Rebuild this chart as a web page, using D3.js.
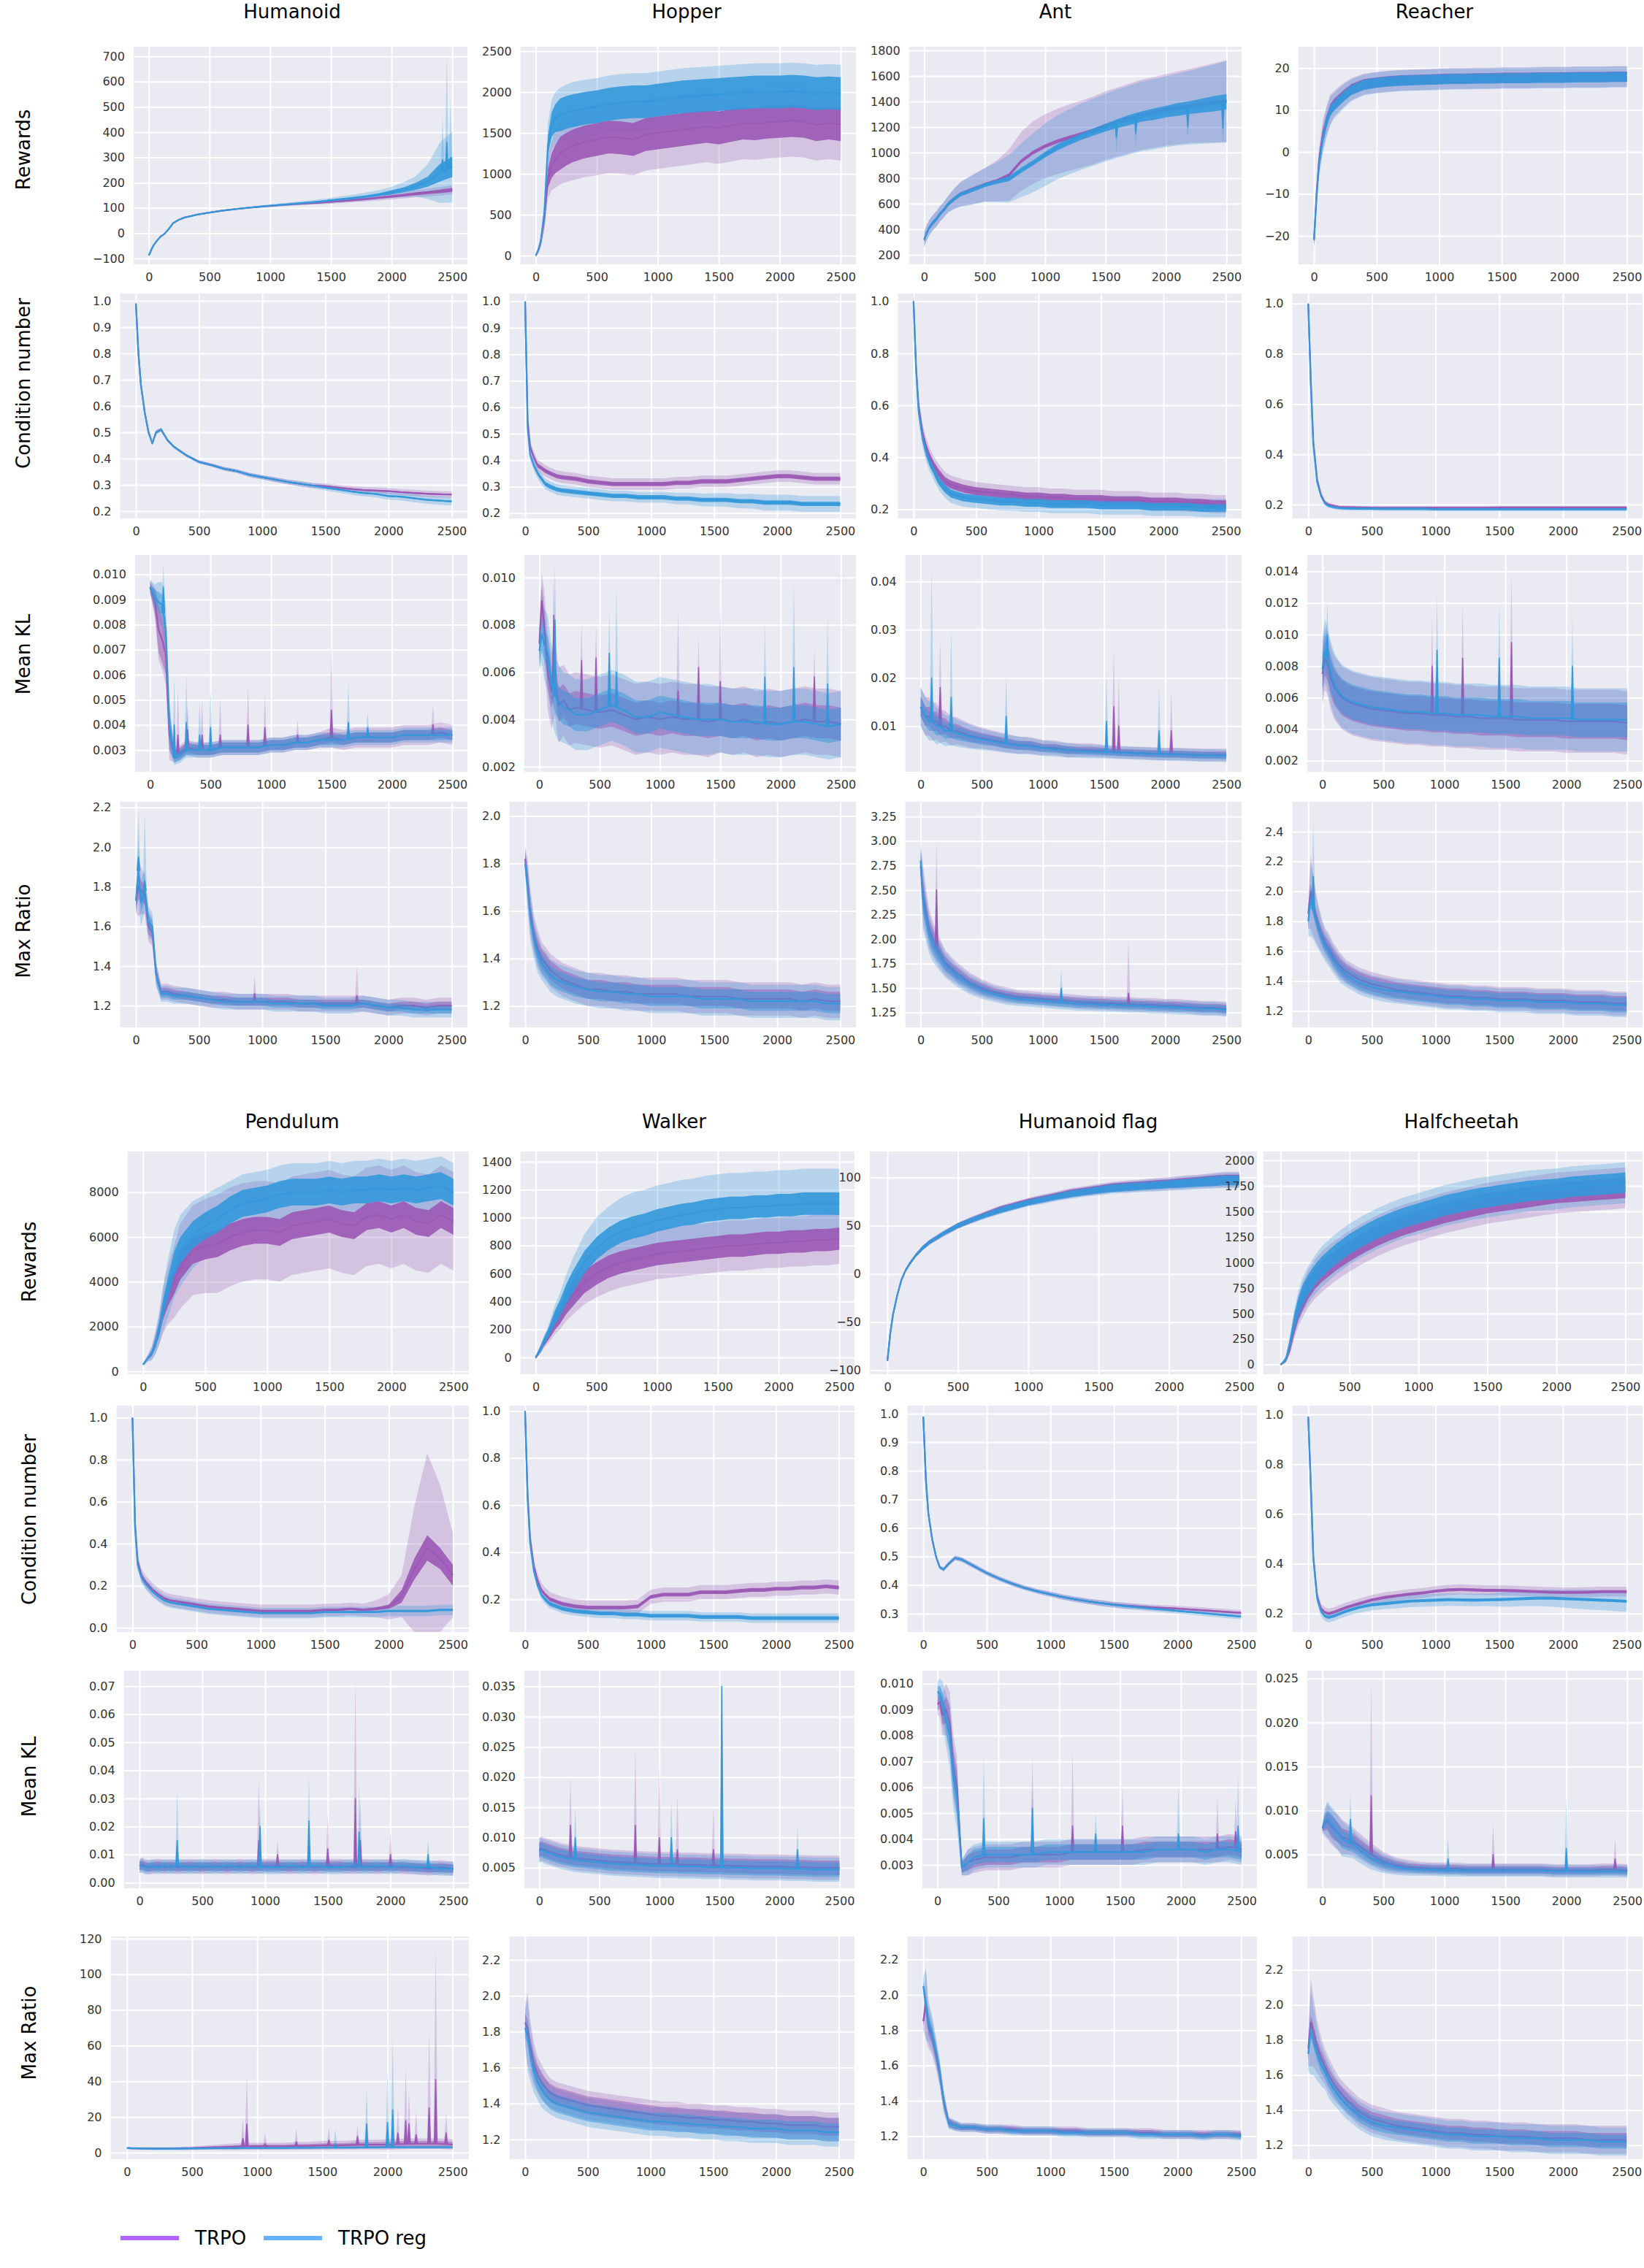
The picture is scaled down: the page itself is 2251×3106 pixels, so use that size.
<!DOCTYPE html>
<html>
<head>
<meta charset="utf-8">
<script src="https://cdn.jsdelivr.net/npm/d3@7"></script>
<style>
  body { margin: 0; background: #fff; }
  svg text { font-family: "DejaVu Sans", sans-serif; }
</style>
</head>
<body>
<svg id="fig" width="2251" height="3106"></svg>
<script>
const steps = [0, 20, 40, 70, 100, 130, 160, 200, 250, 300,
  400, 500, 600, 700, 800, 900, 1000, 1100, 1200, 1300, 1400,
  1500, 1600, 1700, 1800, 1900, 2000, 2100, 2200, 2300, 2400, 2500];
const xTicks = [0, 500, 1000, 1500, 2000, 2500];
const envTop = ["Humanoid", "Hopper", "Ant", "Reacher"];
const envBottom = ["Pendulum", "Walker", "Humanoid flag", "Halfcheetah"];
const metrics = ["Rewards", "Condition number", "Mean KL", "Max Ratio"];
const seriesNames = ["TRPO", "TRPO reg"];

/* ---------- Humanoid ---------- */
const humRewTicks = ["−100", "0", "100", "200", "300", "400", "500", "600", "700"];
const humRewTrpo = [-88, -66, -47, -28, -12, -2, 14, 40, 54, 63,
  74, 82, 89, 95, 100, 104, 108, 112, 115, 118, 121,
  124, 128, 132, 136, 141, 146, 151, 156, 161, 166, 172];
const humRewReg = [-88, -66, -47, -28, -12, -2, 14, 40, 54, 63,
  74, 82, 89, 95, 100, 105, 109, 113, 117, 121, 125,
  130, 135, 140, 146, 153, 162, 172, 186, 205, 240, 262];
const humRewTrpoNoise = [1, 1, 1, 1, 1, 1, 1, 1, 1, 1, 1, 1, 1, 1, 1, 2, 2, 2, 2, 2, 3, 3, 3, 4, 4, 4, 5, 5, 6, 6, 7, 8];
const humRewTrpoSd = [2, 2, 2, 2, 2, 2, 2, 2, 2, 2, 2, 2, 3, 3, 3, 3, 4, 4, 5, 5, 6, 7, 8, 9, 10, 11, 12, 13, 14, 15, 17, 18];
const humRewRegNoise = [1, 1, 1, 1, 1, 1, 1, 1, 1, 1, 1, 1, 1, 1, 1, 2, 2, 2, 3, 3, 3, 4, 4, 5, 5, 6, 8, 10, 14, 20, 35, 40];
const humRewRegSd = [2, 2, 2, 2, 2, 2, 2, 2, 2, 2, 2, 2, 3, 3, 3, 4, 5, 6, 7, 8, 9, 10, 12, 14, 16, 18, 22, 30, 40, 70, 120, 140];
const humRewRegSpikes = [[2420, 290, 460], [2455, 360, 700], [2485, 300, 530]];

const humCondTicks = ["0.2", "0.3", "0.4", "0.5", "0.6", "0.7", "0.8", "0.9", "1.0"];
const humCondTrpo = [0.99, 0.80, 0.68, 0.575, 0.50, 0.458, 0.50, 0.51, 0.47, 0.445,
  0.412, 0.387, 0.375, 0.361, 0.352, 0.338, 0.329, 0.32, 0.311, 0.304, 0.297,
  0.295, 0.289, 0.284, 0.28, 0.278, 0.276, 0.272, 0.269, 0.266, 0.264, 0.263];
const humCondReg = [0.99, 0.80, 0.68, 0.575, 0.50, 0.458, 0.50, 0.51, 0.47, 0.445,
  0.412, 0.387, 0.375, 0.361, 0.352, 0.338, 0.329, 0.32, 0.311, 0.304, 0.297,
  0.289, 0.283, 0.275, 0.269, 0.265, 0.257, 0.255, 0.249, 0.243, 0.24, 0.237];
const humCondTrpoSd = [0.003, 0.003, 0.003, 0.004, 0.005, 0.006, 0.008, 0.008, 0.006, 0.005,
  0.005, 0.006, 0.006, 0.007, 0.007, 0.008, 0.008, 0.009, 0.009, 0.01, 0.01,
  0.01, 0.011, 0.011, 0.012, 0.012, 0.012, 0.012, 0.012, 0.012, 0.012, 0.012];
const humCondRegSd = [0.003, 0.003, 0.003, 0.004, 0.005, 0.006, 0.008, 0.008, 0.006, 0.005,
  0.005, 0.006, 0.006, 0.007, 0.007, 0.008, 0.008, 0.009, 0.009, 0.01, 0.01,
  0.011, 0.012, 0.012, 0.013, 0.013, 0.014, 0.014, 0.015, 0.015, 0.016, 0.016];

const humKlTicks = ["0.003", "0.004", "0.005", "0.006", "0.007", "0.008", "0.009", "0.010"];
const humKlTrpo = [0.0095, 0.0092, 0.0089, 0.0078, 0.0074, 0.0068, 0.0036, 0.0028, 0.0029, 0.0031,
  0.0030, 0.0030, 0.0031, 0.0031, 0.0031, 0.0031, 0.0032, 0.0032, 0.0033, 0.0033, 0.0034,
  0.0035, 0.0034, 0.0035, 0.0035, 0.0035, 0.0035, 0.0036, 0.0036, 0.0036, 0.0037, 0.0036];
const humKlReg = [0.0095, 0.0093, 0.0091, 0.0089, 0.0088, 0.0078, 0.0040, 0.0027, 0.0028, 0.0030,
  0.0030, 0.0030, 0.0031, 0.0031, 0.0031, 0.0031, 0.0032, 0.0032, 0.0033, 0.0033, 0.0034,
  0.0034, 0.0034, 0.0035, 0.0035, 0.0035, 0.0035, 0.0036, 0.0036, 0.0036, 0.0036, 0.0036];
const humKlTrpoNoise = [0.0002, 0.0003, 0.0005, 0.0009, 0.0009, 0.0008, 0.0006, 0.0002, 0.0002, 0.0002,
  0.0002, 0.0002, 0.0002, 0.0002, 0.0002, 0.0002, 0.0002, 0.0002, 0.0002, 0.0002, 0.0002,
  0.0002, 0.0002, 0.0002, 0.0002, 0.0002, 0.0002, 0.0002, 0.0002, 0.0002, 0.0002, 0.0002];
const humKlRegNoise = [0.0001, 0.0002, 0.0003, 0.0004, 0.0004, 0.0005, 0.0006, 0.0002, 0.0002, 0.0002,
  0.0002, 0.0002, 0.0002, 0.0002, 0.0002, 0.0002, 0.0002, 0.0002, 0.0002, 0.0002, 0.0002,
  0.0002, 0.0002, 0.0002, 0.0002, 0.0002, 0.0002, 0.0002, 0.0002, 0.0002, 0.0002, 0.0002];
const humKlTrpoSd = [0.0003, 0.0004, 0.0006, 0.0012, 0.0012, 0.0012, 0.0010, 0.0003, 0.0003, 0.0003,
  0.0003, 0.0003, 0.0003, 0.0003, 0.0003, 0.0003, 0.0003, 0.0003, 0.0003, 0.0003, 0.0003,
  0.0004, 0.0004, 0.0004, 0.0004, 0.0004, 0.0004, 0.0004, 0.0004, 0.0004, 0.0004, 0.0004];
const humKlRegSd = [0.0003, 0.0004, 0.0005, 0.0008, 0.0009, 0.0010, 0.0010, 0.0003, 0.0003, 0.0003,
  0.0003, 0.0003, 0.0003, 0.0003, 0.0003, 0.0003, 0.0003, 0.0003, 0.0003, 0.0003, 0.0003,
  0.0003, 0.0003, 0.0003, 0.0003, 0.0003, 0.0003, 0.0003, 0.0003, 0.0003, 0.0003, 0.0003];
const humKlTrpoSpikes = [[230, 0.0036, 0.0054], [310, 0.0038, 0.0048], [430, 0.0036, 0.0050], [580, 0.0036, 0.0051],
  [810, 0.0040, 0.0055], [950, 0.0039, 0.0052], [1220, 0.0036, 0.0042], [1500, 0.0046, 0.0072], [2340, 0.0040, 0.0048]];
const humKlRegSpikes = [[110, 0.0095, 0.0104], [200, 0.0040, 0.0059], [300, 0.0041, 0.0060], [410, 0.0036, 0.0049],
  [500, 0.0039, 0.0054], [1640, 0.0041, 0.0057], [1800, 0.0039, 0.0045]];

const humRatioTicks = ["1.2", "1.4", "1.6", "1.8", "2.0", "2.2"];
const humRatioTrpo = [1.73, 1.80, 1.78, 1.76, 1.60, 1.57, 1.36, 1.27, 1.27, 1.26,
  1.25, 1.24, 1.23, 1.23, 1.22, 1.22, 1.22, 1.22, 1.22, 1.21, 1.21,
  1.21, 1.21, 1.21, 1.21, 1.20, 1.19, 1.20, 1.20, 1.19, 1.20, 1.20];
const humRatioReg = [1.73, 1.88, 1.72, 1.78, 1.62, 1.60, 1.36, 1.26, 1.26, 1.25,
  1.25, 1.24, 1.23, 1.22, 1.22, 1.22, 1.22, 1.21, 1.21, 1.21, 1.21,
  1.20, 1.20, 1.20, 1.21, 1.20, 1.19, 1.19, 1.18, 1.18, 1.18, 1.18];
const humRatioNoise = [0.04, 0.06, 0.05, 0.05, 0.04, 0.03, 0.03, 0.02, 0.02, 0.02,
  0.02, 0.02, 0.02, 0.02, 0.02, 0.02, 0.02, 0.02, 0.02, 0.02, 0.02,
  0.02, 0.02, 0.02, 0.02, 0.02, 0.02, 0.02, 0.02, 0.02, 0.02, 0.02];
const humRatioSd = [0.06, 0.15, 0.12, 0.10, 0.08, 0.07, 0.06, 0.04, 0.04, 0.04,
  0.04, 0.04, 0.04, 0.04, 0.04, 0.04, 0.04, 0.04, 0.04, 0.04, 0.04,
  0.04, 0.04, 0.04, 0.04, 0.04, 0.04, 0.04, 0.04, 0.04, 0.04, 0.04];
const humRatioTrpoSpikes = [[940, 1.26, 1.35], [1750, 1.25, 1.40]];
const humRatioRegSpikes = [[20, 1.95, 2.18], [70, 1.83, 2.17]];

/* ---------- Hopper ---------- */
const hopRewTicks = ["0", "500", "1000", "1500", "2000", "2500"];
const hopRewTrpo = [0, 60, 160, 450, 950, 1100, 1180, 1250, 1300, 1340,
  1390, 1420, 1450, 1440, 1420, 1480, 1500, 1520, 1540, 1560, 1580,
  1560, 1590, 1620, 1610, 1630, 1640, 1650, 1640, 1600, 1620, 1600];
const hopRewReg = [0, 70, 170, 520, 1350, 1600, 1680, 1720, 1750, 1770,
  1800, 1820, 1850, 1870, 1880, 1880, 1900, 1920, 1940, 1950, 1960,
  1970, 1980, 1990, 2000, 2000, 2000, 2010, 2000, 1980, 1990, 1980];
const hopRewNoise = [5, 15, 30, 60, 120, 150, 170, 200, 200, 200,
  200, 200, 200, 200, 200, 200, 200, 200, 200, 200, 200,
  200, 200, 200, 200, 200, 200, 200, 200, 200, 200, 200];
const hopRewTrpoSd = [5, 30, 60, 150, 250, 300, 350, 380, 400, 420,
  430, 440, 440, 440, 440, 440, 440, 440, 440, 440, 440,
  440, 440, 440, 440, 440, 440, 440, 440, 440, 440, 440];
const hopRewRegSd = [5, 30, 60, 150, 280, 300, 320, 330, 340, 350,
  350, 350, 350, 350, 350, 350, 350, 350, 350, 350, 350,
  350, 350, 350, 350, 350, 350, 350, 350, 350, 350, 350];

const hopCondTicks = ["0.2", "0.3", "0.4", "0.5", "0.6", "0.7", "0.8", "0.9", "1.0"];
const hopCondTrpo = [1.0, 0.55, 0.45, 0.41, 0.38, 0.37, 0.36, 0.35, 0.34, 0.335,
  0.33, 0.32, 0.315, 0.31, 0.31, 0.31, 0.31, 0.31, 0.315, 0.315, 0.32,
  0.32, 0.32, 0.325, 0.33, 0.335, 0.34, 0.34, 0.335, 0.33, 0.33, 0.33];
const hopCondReg = [1.0, 0.52, 0.42, 0.38, 0.35, 0.33, 0.31, 0.30, 0.29, 0.285,
  0.28, 0.275, 0.27, 0.265, 0.265, 0.26, 0.26, 0.26, 0.255, 0.255, 0.25,
  0.25, 0.25, 0.245, 0.245, 0.24, 0.24, 0.24, 0.235, 0.235, 0.235, 0.235];
const hopCondRegSd = [0.01, 0.02, 0.02, 0.02, 0.02, 0.02, 0.02, 0.02, 0.02, 0.02,
  0.02, 0.02, 0.02, 0.02, 0.02, 0.02, 0.02, 0.02, 0.022, 0.022, 0.024,
  0.025, 0.026, 0.027, 0.028, 0.03, 0.03, 0.03, 0.03, 0.03, 0.03, 0.03];

const hopKlTicks = ["0.002", "0.004", "0.006", "0.008", "0.010"];
const hopKlTrpo = [0.0072, 0.0090, 0.0080, 0.0060, 0.0052, 0.0058, 0.0046, 0.0048, 0.0044, 0.0045,
  0.0044, 0.0043, 0.0044, 0.0042, 0.0040, 0.0041, 0.0040, 0.0041, 0.0040, 0.0040, 0.0039,
  0.0040, 0.0039, 0.0040, 0.0038, 0.0039, 0.0038, 0.0039, 0.0040, 0.0039, 0.0039, 0.0038];
const hopKlReg = [0.0069, 0.0076, 0.0072, 0.0068, 0.0056, 0.0050, 0.0047, 0.0045, 0.0044, 0.0042,
  0.0042, 0.0044, 0.0046, 0.0044, 0.0041, 0.0041, 0.0043, 0.0042, 0.0041, 0.0040, 0.0040,
  0.0040, 0.0039, 0.0039, 0.0039, 0.0038, 0.0038, 0.0039, 0.0039, 0.0038, 0.0037, 0.0038];
const hopKlSd = [0.0008, 0.0012, 0.0015, 0.0016, 0.0016, 0.0016, 0.0016, 0.0015, 0.0015, 0.0015,
  0.0015, 0.0015, 0.0015, 0.0015, 0.0015, 0.0015, 0.0015, 0.0015, 0.0015, 0.0015, 0.0015,
  0.0014, 0.0014, 0.0014, 0.0014, 0.0014, 0.0014, 0.0014, 0.0014, 0.0014, 0.0014, 0.0014];
const hopKlTrpoSpikes = [[120, 0.0084, 0.0102], [350, 0.0065, 0.0081], [470, 0.0066, 0.0080], [1150, 0.0052, 0.0086],
  [1320, 0.0062, 0.0075], [1500, 0.0056, 0.0088], [2280, 0.0058, 0.0070]];
const hopKlRegSpikes = [[130, 0.0082, 0.0105], [580, 0.0068, 0.0086], [640, 0.0060, 0.0096], [1870, 0.0058, 0.0080],
  [2110, 0.0062, 0.0098], [2390, 0.0055, 0.0083]];

const hopRatioTicks = ["1.2", "1.4", "1.6", "1.8", "2.0"];
const hopRatioTrpo = [1.82, 1.72, 1.60, 1.50, 1.44, 1.40, 1.38, 1.35, 1.33, 1.31,
  1.29, 1.27, 1.27, 1.26, 1.26, 1.25, 1.25, 1.25, 1.25, 1.24, 1.24,
  1.24, 1.24, 1.23, 1.23, 1.23, 1.23, 1.23, 1.22, 1.23, 1.22, 1.22];
const hopRatioReg = [1.80, 1.70, 1.58, 1.48, 1.42, 1.38, 1.36, 1.33, 1.31, 1.30,
  1.28, 1.27, 1.26, 1.26, 1.25, 1.25, 1.24, 1.24, 1.24, 1.24, 1.23,
  1.23, 1.23, 1.23, 1.22, 1.22, 1.22, 1.22, 1.22, 1.22, 1.21, 1.21];
const hopRatioSd = [0.05, 0.10, 0.10, 0.08, 0.08, 0.07, 0.07, 0.07, 0.07, 0.07,
  0.07, 0.07, 0.07, 0.07, 0.07, 0.07, 0.07, 0.07, 0.07, 0.07, 0.07,
  0.07, 0.07, 0.07, 0.07, 0.07, 0.07, 0.07, 0.07, 0.07, 0.07, 0.07];

/* ---------- Ant ---------- */
const antRewTicks = ["200", "400", "600", "800", "1000", "1200", "1400", "1600", "1800"];
const antRewTrpo = [320, 370, 410, 450, 480, 520, 550, 600, 640, 675,
  712, 748, 778, 822, 930, 1000, 1050, 1088, 1117, 1145, 1174,
  1211, 1240, 1268, 1296, 1315, 1334, 1350, 1365, 1378, 1390, 1402];
const antRewReg = [320, 370, 410, 450, 480, 520, 550, 600, 640, 672,
  708, 745, 770, 795, 860, 920, 984, 1041, 1085, 1125, 1160,
  1195, 1228, 1255, 1282, 1300, 1320, 1338, 1352, 1368, 1382, 1398];
const antRewRegNoise = [15, 15, 15, 15, 15, 15, 15, 15, 15, 15,
  15, 15, 15, 20, 20, 20, 22, 25, 25, 25, 28,
  30, 35, 40, 40, 45, 45, 50, 50, 55, 60, 60];
const antRewTrpoSd = [60, 60, 60, 60, 60, 60, 60, 65, 80, 95,
  115, 130, 160, 200, 230, 245, 250, 255, 260, 262, 265,
  268, 270, 272, 275, 278, 280, 285, 290, 300, 310, 320];
const antRewRegSd = [60, 60, 60, 60, 60, 60, 60, 65, 80, 95,
  115, 130, 155, 185, 210, 230, 245, 250, 255, 260, 262,
  265, 268, 270, 272, 275, 278, 282, 288, 298, 308, 318];
const antRewRegSpikes = [[1590, 1120, 1000], [1750, 1150, 1050], [2180, 1200, 1100], [2470, 1190, 1050]];

const antCondTicks = ["0.2", "0.4", "0.6", "0.8", "1.0"];
const antCondTrpo = [1.0, 0.75, 0.6, 0.5, 0.44, 0.4, 0.37, 0.34, 0.31, 0.295,
  0.28, 0.27, 0.265, 0.26, 0.255, 0.25, 0.25, 0.245, 0.245, 0.24, 0.24,
  0.24, 0.235, 0.235, 0.235, 0.23, 0.23, 0.23, 0.225, 0.225, 0.22, 0.22];
const antCondReg = [1.0, 0.74, 0.58, 0.48, 0.42, 0.38, 0.35, 0.31, 0.28, 0.26,
  0.245, 0.24, 0.235, 0.23, 0.23, 0.225, 0.225, 0.22, 0.22, 0.22, 0.22,
  0.215, 0.215, 0.215, 0.215, 0.21, 0.21, 0.21, 0.21, 0.205, 0.205, 0.205];

const antKlTicks = ["0.01", "0.02", "0.03", "0.04"];
const antKlTrpo = [0.014, 0.013, 0.012, 0.012, 0.011, 0.011, 0.010, 0.010, 0.009, 0.009,
  0.008, 0.0075, 0.007, 0.0065, 0.006, 0.006, 0.0055, 0.0055, 0.005, 0.005, 0.005,
  0.0048, 0.0046, 0.0045, 0.0044, 0.0043, 0.0042, 0.0042, 0.0041, 0.004, 0.004, 0.004];
const antKlReg = [0.014, 0.013, 0.012, 0.011, 0.011, 0.010, 0.010, 0.009, 0.009, 0.0085,
  0.0078, 0.0072, 0.0068, 0.0063, 0.006, 0.0058, 0.0054, 0.0052, 0.005, 0.0048, 0.0047,
  0.0046, 0.0045, 0.0044, 0.0043, 0.0042, 0.0041, 0.0041, 0.004, 0.0039, 0.0039, 0.0038];
const antKlNoise = [0.002, 0.002, 0.002, 0.002, 0.002, 0.002, 0.0018, 0.0016, 0.0015, 0.0014,
  0.0012, 0.0011, 0.001, 0.001, 0.0009, 0.0009, 0.0008, 0.0008, 0.0008, 0.0007, 0.0007,
  0.0007, 0.0007, 0.0007, 0.0007, 0.0007, 0.0007, 0.0007, 0.0007, 0.0007, 0.0007, 0.0007];
const antKlSd = [0.004, 0.004, 0.004, 0.004, 0.004, 0.0038, 0.0035, 0.0032, 0.003, 0.0028,
  0.0025, 0.0022, 0.002, 0.0019, 0.0018, 0.0017, 0.0016, 0.0015, 0.0015, 0.0014, 0.0014,
  0.0013, 0.0013, 0.0013, 0.0013, 0.0013, 0.0013, 0.0013, 0.0013, 0.0013, 0.0013, 0.0013];
const antKlTrpoSpikes = [[160, 0.018, 0.028], [1580, 0.014, 0.026], [1620, 0.010, 0.020], [2050, 0.009, 0.017]];
const antKlRegSpikes = [[90, 0.020, 0.043], [250, 0.016, 0.030], [700, 0.012, 0.020], [1520, 0.011, 0.021], [1950, 0.009, 0.018]];

const antRatioTicks = ["1.25", "1.50", "1.75", "2.00", "2.25", "2.50", "2.75", "3.00", "3.25"];
const antRatioTrpo = [2.75, 2.45, 2.3, 2.1, 2.0, 1.92, 1.85, 1.76, 1.70, 1.65,
  1.56, 1.50, 1.46, 1.43, 1.41, 1.40, 1.39, 1.38, 1.37, 1.36, 1.35,
  1.35, 1.34, 1.34, 1.33, 1.33, 1.32, 1.32, 1.31, 1.30, 1.30, 1.29];
const antRatioReg = [2.8, 2.4, 2.25, 2.05, 1.95, 1.88, 1.82, 1.74, 1.68, 1.62,
  1.54, 1.48, 1.44, 1.41, 1.39, 1.38, 1.37, 1.36, 1.35, 1.34, 1.34,
  1.33, 1.33, 1.32, 1.32, 1.31, 1.31, 1.30, 1.30, 1.29, 1.29, 1.28];
const antRatioNoise = [0.12, 0.15, 0.12, 0.1, 0.1, 0.09, 0.08, 0.07, 0.06, 0.06,
  0.05, 0.05, 0.04, 0.04, 0.04, 0.04, 0.04, 0.04, 0.04, 0.04, 0.04,
  0.04, 0.04, 0.04, 0.04, 0.04, 0.04, 0.04, 0.04, 0.04, 0.04, 0.04];
const antRatioSd = [0.2, 0.3, 0.25, 0.2, 0.18, 0.16, 0.15, 0.13, 0.12, 0.11,
  0.1, 0.09, 0.08, 0.08, 0.07, 0.07, 0.07, 0.07, 0.07, 0.07, 0.07,
  0.07, 0.07, 0.07, 0.07, 0.07, 0.07, 0.07, 0.07, 0.07, 0.07, 0.07];
const antRatioTrpoSpikes = [[130, 2.5, 3.0], [1700, 1.45, 2.0]];
const antRatioRegSpikes = [[1150, 1.5, 1.7]];

/* ---------- Reacher ---------- */
const reaRewTicks = ["−20", "−10", "0", "10", "20"];
const reaRewTrpo = [-21, -10, -2, 4, 7.5, 10.2, 11.5, 12.6, 13.9, 15,
  16.2, 16.6, 16.9, 17.1, 17.2, 17.3, 17.4, 17.5, 17.5, 17.6, 17.6,
  17.7, 17.7, 17.7, 17.8, 17.8, 17.8, 17.9, 17.9, 17.9, 18, 18];
const reaRewReg = [-21, -11, -3, 3, 7, 9.8, 11, 12.2, 13.6, 14.8,
  16, 16.5, 16.8, 17, 17.1, 17.2, 17.3, 17.4, 17.4, 17.5, 17.5,
  17.6, 17.6, 17.6, 17.7, 17.7, 17.7, 17.8, 17.8, 17.8, 17.9, 17.9];
const reaRewSd = [2, 2.5, 3, 3.5, 3.5, 3.5, 3, 3, 2.8, 2.6,
  2.5, 2.5, 2.5, 2.5, 2.5, 2.5, 2.5, 2.5, 2.5, 2.5, 2.5,
  2.5, 2.5, 2.5, 2.5, 2.5, 2.5, 2.5, 2.5, 2.5, 2.5, 2.5];

const reaCondTicks = ["0.2", "0.4", "0.6", "0.8", "1.0"];
const reaCondTrpo = [1.0, 0.7, 0.45, 0.3, 0.24, 0.21, 0.2, 0.195, 0.19, 0.189,
  0.188, 0.187, 0.187, 0.187, 0.187, 0.187, 0.187, 0.187, 0.187, 0.187, 0.187,
  0.188, 0.188, 0.188, 0.188, 0.188, 0.188, 0.188, 0.188, 0.188, 0.188, 0.188];
const reaCondReg = [1.0, 0.68, 0.44, 0.29, 0.235, 0.205, 0.195, 0.19, 0.186, 0.185,
  0.184, 0.184, 0.183, 0.183, 0.183, 0.183, 0.182, 0.182, 0.182, 0.182, 0.182,
  0.182, 0.182, 0.182, 0.182, 0.182, 0.182, 0.182, 0.182, 0.182, 0.182, 0.182];

const reaKlTicks = ["0.002", "0.004", "0.006", "0.008", "0.010", "0.012", "0.014"];
const reaKlTrpo = [0.0075, 0.0085, 0.0082, 0.0072, 0.0066, 0.0063, 0.0060, 0.0058, 0.0056, 0.0055,
  0.0053, 0.0052, 0.0051, 0.0050, 0.0050, 0.0049, 0.0049, 0.0048, 0.0048, 0.0047, 0.0047,
  0.0047, 0.0046, 0.0046, 0.0046, 0.0046, 0.0045, 0.0045, 0.0045, 0.0045, 0.0045, 0.0044];
const reaKlReg = [0.0078, 0.0090, 0.0085, 0.0075, 0.0068, 0.0064, 0.0061, 0.0059, 0.0057, 0.0056,
  0.0054, 0.0053, 0.0052, 0.0051, 0.0051, 0.0050, 0.0050, 0.0049, 0.0049, 0.0049, 0.0048,
  0.0048, 0.0048, 0.0047, 0.0047, 0.0047, 0.0047, 0.0046, 0.0046, 0.0046, 0.0046, 0.0046];
const reaKlTrpoSpikes = [[900, 0.008, 0.011], [1150, 0.0085, 0.012], [1550, 0.0095, 0.014]];
const reaKlRegSpikes = [[40, 0.010, 0.012], [940, 0.009, 0.0125], [1450, 0.0085, 0.012], [2050, 0.008, 0.011]];

const reaRatioTicks = ["1.2", "1.4", "1.6", "1.8", "2.0", "2.2", "2.4"];
const reaRatioTrpo = [1.85, 2.0, 1.9, 1.8, 1.72, 1.66, 1.62, 1.56, 1.5, 1.46,
  1.41, 1.38, 1.36, 1.34, 1.33, 1.32, 1.31, 1.30, 1.30, 1.29, 1.29,
  1.28, 1.28, 1.28, 1.27, 1.27, 1.27, 1.26, 1.26, 1.26, 1.25, 1.25];
const reaRatioReg = [1.80, 1.95, 1.88, 1.78, 1.70, 1.64, 1.6, 1.54, 1.48, 1.44,
  1.39, 1.36, 1.34, 1.33, 1.32, 1.31, 1.30, 1.29, 1.29, 1.28, 1.28,
  1.27, 1.27, 1.27, 1.26, 1.26, 1.26, 1.25, 1.25, 1.25, 1.24, 1.24];
const reaRatioSd = [0.1, 0.25, 0.2, 0.15, 0.12, 0.1, 0.1, 0.09, 0.09, 0.08,
  0.08, 0.08, 0.08, 0.08, 0.08, 0.08, 0.08, 0.08, 0.08, 0.08, 0.08,
  0.08, 0.08, 0.08, 0.08, 0.08, 0.08, 0.08, 0.08, 0.08, 0.08, 0.08];
const reaRatioRegSpikes = [[40, 2.1, 2.45]];

/* ---------- Pendulum ---------- */
const penRewTicks = ["0", "2000", "4000", "6000", "8000"];
const penRewTrpo = [300, 450, 600, 800, 1300, 1900, 2700, 3400, 4000, 4700,
  5400, 5600, 5700, 6000, 6200, 6300, 6300, 6200, 6500, 6600, 6700,
  6800, 6600, 6500, 6900, 7000, 6800, 7000, 6700, 6600, 7000, 6700];
const penRewReg = [300, 450, 600, 820, 1250, 1900, 2800, 3700, 4800, 5400,
  6100, 6500, 6800, 7200, 7500, 7600, 7700, 7900, 8000, 8000, 8000,
  8100, 8000, 8100, 8100, 8200, 8100, 8200, 8100, 8200, 8300, 8000];
const penRewNoise = [20, 40, 60, 100, 200, 300, 400, 500, 550, 600,
  600, 600, 600, 600, 600, 600, 600, 600, 600, 600, 600,
  600, 600, 600, 600, 600, 600, 600, 600, 600, 600, 600];
const penRewTrpoSd = [50, 100, 150, 300, 500, 700, 1000, 1300, 1600, 1900,
  2000, 2100, 2200, 2200, 2200, 2200, 2200, 2200, 2200, 2200, 2200,
  2200, 2200, 2200, 2200, 2200, 2200, 2200, 2200, 2200, 2200, 2200];
const penRewRegSd = [50, 100, 150, 300, 500, 700, 1000, 1300, 1500, 1600,
  1500, 1400, 1400, 1300, 1300, 1300, 1300, 1300, 1300, 1300, 1300,
  1300, 1300, 1300, 1300, 1300, 1300, 1300, 1300, 1300, 1300, 1300];

const penCondTicks = ["0.0", "0.2", "0.4", "0.6", "0.8", "1.0"];
const penCondTrpo = [1.0, 0.5, 0.32, 0.25, 0.22, 0.2, 0.18, 0.16, 0.14, 0.13,
  0.12, 0.11, 0.10, 0.095, 0.09, 0.085, 0.08, 0.08, 0.08, 0.08, 0.08,
  0.085, 0.085, 0.09, 0.085, 0.09, 0.10, 0.15, 0.28, 0.38, 0.33, 0.25];
const penCondReg = [1.0, 0.48, 0.3, 0.24, 0.21, 0.19, 0.17, 0.15, 0.13, 0.12,
  0.11, 0.10, 0.09, 0.085, 0.08, 0.075, 0.07, 0.07, 0.07, 0.07, 0.07,
  0.075, 0.075, 0.075, 0.075, 0.075, 0.08, 0.08, 0.08, 0.08, 0.085, 0.085];
const penCondTrpoNoise = [0.005, 0.005, 0.005, 0.005, 0.005, 0.005, 0.005, 0.005, 0.005, 0.005,
  0.006, 0.006, 0.006, 0.006, 0.006, 0.006, 0.006, 0.006, 0.006, 0.006, 0.006,
  0.006, 0.006, 0.006, 0.006, 0.007, 0.01, 0.03, 0.05, 0.06, 0.05, 0.05];
const penCondTrpoSd = [0.01, 0.03, 0.03, 0.03, 0.03, 0.03, 0.03, 0.03, 0.03, 0.03,
  0.03, 0.03, 0.03, 0.03, 0.03, 0.03, 0.03, 0.03, 0.03, 0.03, 0.03,
  0.03, 0.03, 0.03, 0.03, 0.04, 0.06, 0.1, 0.3, 0.45, 0.35, 0.2];

const penKlTicks = ["0.00", "0.01", "0.02", "0.03", "0.04", "0.05", "0.06", "0.07"];
const penKlTrpo = [0.006, 0.0065, 0.006, 0.0055, 0.0055, 0.006, 0.006, 0.0055, 0.006, 0.0055,
  0.006, 0.0055, 0.006, 0.0055, 0.006, 0.0055, 0.006, 0.006, 0.0055, 0.006, 0.0055,
  0.006, 0.006, 0.0055, 0.006, 0.0055, 0.006, 0.0055, 0.0055, 0.005, 0.0055, 0.005];
const penKlReg = [0.006, 0.006, 0.0055, 0.0055, 0.006, 0.0055, 0.0055, 0.006, 0.0055, 0.006,
  0.0055, 0.006, 0.0055, 0.006, 0.0055, 0.006, 0.0055, 0.0055, 0.006, 0.0055, 0.006,
  0.0055, 0.0055, 0.006, 0.0055, 0.006, 0.0055, 0.006, 0.0055, 0.0055, 0.005, 0.005];
const penKlTrpoSpikes = [[950, 0.015, 0.037], [1100, 0.010, 0.015], [1500, 0.012, 0.025], [1720, 0.030, 0.073],
  [1760, 0.015, 0.030], [2000, 0.010, 0.018]];
const penKlRegSpikes = [[300, 0.015, 0.033], [960, 0.020, 0.028], [1350, 0.022, 0.038], [1750, 0.018, 0.035], [2300, 0.010, 0.015]];

const penRatioTicks = ["0", "20", "40", "60", "80", "100", "120"];
const penRatioTrpo = [2.5, 2.5, 2.4, 2.4, 2.4, 2.3, 2.3, 2.3, 2.3, 2.3,
  2.4, 2.5, 2.8, 3, 3.2, 3.5, 3.5, 3.5, 3.5, 3.7, 3.8,
  4, 4, 4.2, 4.5, 4.5, 4.5, 4.8, 5, 5, 5, 4.5];
const penRatioReg = [2.5, 2.5, 2.4, 2.4, 2.3, 2.3, 2.3, 2.2, 2.2, 2.2,
  2.2, 2.3, 2.4, 2.5, 2.5, 2.6, 2.6, 2.6, 2.6, 2.7, 2.7,
  2.8, 2.8, 2.8, 2.9, 2.9, 3, 3, 3, 3, 3, 3];
const penRatioTrpoNoise = [0.3, 0.3, 0.3, 0.3, 0.3, 0.3, 0.3, 0.3, 0.3, 0.3,
  0.4, 0.5, 0.6, 0.7, 0.8, 0.9, 1, 1, 1, 1, 1,
  1.2, 1.2, 1.2, 1.3, 1.3, 1.4, 1.5, 1.5, 1.5, 1.5, 1.5];
const penRatioTrpoSd = [0.5, 0.5, 0.5, 0.5, 0.5, 0.5, 0.5, 0.5, 0.5, 0.5,
  0.8, 1, 1.2, 1.5, 1.8, 2, 2, 2, 2, 2.2, 2.2,
  2.5, 2.5, 2.5, 2.8, 2.8, 3, 3, 3, 3, 3, 3];
const penRatioTrpoSpikes = [[890, 8, 19], [920, 16, 43], [1060, 5, 11], [1300, 6, 13], [1550, 7, 14], [1770, 9, 15],
  [2080, 11, 25], [2140, 18, 47], [2165, 16, 34], [2220, 10, 23], [2320, 25, 69], [2370, 41, 116], [2450, 11, 22]];
const penRatioRegSpikes = [[1600, 5, 13], [1840, 16, 36], [2000, 17, 47], [2040, 24, 64]];

/* ---------- Walker ---------- */
const walRewTicks = ["0", "200", "400", "600", "800", "1000", "1200", "1400"];
const walRewTrpo = [0, 30, 60, 110, 150, 200, 250, 300, 380, 440,
  540, 600, 650, 680, 700, 720, 740, 750, 760, 770, 780,
  790, 800, 800, 810, 820, 820, 830, 830, 840, 840, 850];
const walRewReg = [0, 30, 60, 120, 170, 230, 290, 350, 450, 530,
  680, 780, 850, 900, 930, 950, 980, 1000, 1020, 1030, 1050,
  1060, 1070, 1070, 1080, 1080, 1090, 1090, 1100, 1100, 1100, 1100];
const walRewNoise = [10, 15, 20, 25, 30, 40, 50, 60, 70, 80,
  80, 80, 80, 80, 80, 80, 80, 80, 80, 80, 80,
  80, 80, 80, 80, 80, 80, 80, 80, 80, 80, 80];
const walRewTrpoSd = [10, 20, 30, 40, 50, 70, 80, 100, 120, 140,
  160, 170, 180, 180, 180, 180, 180, 180, 180, 180, 180,
  180, 180, 180, 180, 180, 180, 180, 180, 180, 180, 180];
const walRewRegSd = [10, 20, 30, 40, 50, 70, 90, 110, 140, 170,
  200, 220, 230, 240, 250, 250, 250, 250, 250, 250, 250,
  250, 250, 250, 250, 250, 250, 250, 250, 250, 250, 250];

const walCondTicks = ["0.2", "0.4", "0.6", "0.8", "1.0"];
const walCondTrpo = [1.0, 0.65, 0.46, 0.34, 0.28, 0.24, 0.22, 0.2, 0.19, 0.18,
  0.17, 0.165, 0.165, 0.165, 0.165, 0.17, 0.21, 0.22, 0.22, 0.22, 0.23,
  0.23, 0.23, 0.235, 0.24, 0.24, 0.245, 0.245, 0.25, 0.25, 0.255, 0.25];
const walCondReg = [1.0, 0.63, 0.44, 0.32, 0.26, 0.22, 0.2, 0.18, 0.17, 0.16,
  0.15, 0.145, 0.14, 0.14, 0.135, 0.135, 0.13, 0.13, 0.13, 0.13, 0.125,
  0.125, 0.125, 0.125, 0.12, 0.12, 0.12, 0.12, 0.12, 0.12, 0.12, 0.12];

const walKlTicks = ["0.005", "0.010", "0.015", "0.020", "0.025", "0.030", "0.035"];
const walKlTrpo = [0.008, 0.0082, 0.008, 0.0078, 0.0076, 0.0074, 0.0072, 0.007, 0.0068, 0.0066,
  0.0064, 0.0062, 0.006, 0.0059, 0.0058, 0.0057, 0.0056, 0.0056, 0.0055, 0.0055, 0.0054,
  0.0054, 0.0053, 0.0053, 0.0052, 0.0052, 0.0052, 0.0051, 0.0051, 0.005, 0.005, 0.005];
const walKlReg = [0.0078, 0.008, 0.0077, 0.0075, 0.0073, 0.0071, 0.0069, 0.0067, 0.0065, 0.0063,
  0.0061, 0.0059, 0.0057, 0.0056, 0.0055, 0.0054, 0.0053, 0.0053, 0.0052, 0.0052, 0.0051,
  0.0051, 0.005, 0.005, 0.0049, 0.0049, 0.0049, 0.0048, 0.0048, 0.0047, 0.0047, 0.0047];
const walKlTrpoSpikes = [[260, 0.012, 0.020], [800, 0.012, 0.025], [1000, 0.010, 0.022], [1150, 0.008, 0.017], [1450, 0.008, 0.015]];
const walKlRegSpikes = [[300, 0.010, 0.015], [1100, 0.010, 0.016], [1520, 0.035, 0.036], [2150, 0.008, 0.012]];

const walRatioTicks = ["1.2", "1.4", "1.6", "1.8", "2.0", "2.2"];
const walRatioTrpo = [1.85, 1.82, 1.72, 1.62, 1.56, 1.52, 1.49, 1.46, 1.44, 1.43,
  1.41, 1.39, 1.38, 1.37, 1.36, 1.35, 1.34, 1.33, 1.33, 1.32, 1.32,
  1.31, 1.31, 1.30, 1.30, 1.29, 1.29, 1.28, 1.28, 1.28, 1.27, 1.27];
const walRatioReg = [1.82, 1.78, 1.68, 1.58, 1.52, 1.48, 1.45, 1.42, 1.40, 1.39,
  1.37, 1.35, 1.34, 1.33, 1.32, 1.31, 1.30, 1.30, 1.29, 1.29, 1.28,
  1.28, 1.27, 1.27, 1.26, 1.26, 1.26, 1.25, 1.25, 1.25, 1.24, 1.24];
const walRatioSd = [0.1, 0.2, 0.15, 0.12, 0.1, 0.1, 0.09, 0.08, 0.08, 0.08,
  0.08, 0.08, 0.08, 0.08, 0.08, 0.08, 0.08, 0.08, 0.08, 0.08, 0.08,
  0.08, 0.08, 0.08, 0.08, 0.08, 0.08, 0.08, 0.08, 0.08, 0.08, 0.08];

/* ---------- Humanoid flag ---------- */
const hflRewTicks = ["−100", "−50", "0", "50", "100"];
const hflRewTrpo = [-90, -62, -42, -22, -6, 4, 11, 19, 27, 33,
  42, 50, 56, 62, 67, 71, 75, 78, 81, 84, 86,
  88, 90, 91, 92, 93, 94, 95, 96, 97, 98, 98];
const hflRewReg = [-90, -62, -42, -22, -6, 4, 11, 19, 27, 33,
  42, 50, 56, 61, 66, 70, 74, 77, 80, 83, 85,
  87, 89, 90, 91, 92, 93, 94, 95, 96, 97, 97];
const hflRewNoise = [0.5, 0.5, 0.5, 1, 1, 1, 1.5, 1.5, 2, 2,
  2, 2.5, 2.5, 2.5, 3, 3, 3, 3, 3, 3.5, 3.5,
  3.5, 4, 4, 4, 4, 4, 4.5, 4.5, 5, 5, 5];
const hflRewSd = [1, 1, 1, 1.5, 1.5, 2, 2, 2, 2.5, 2.5,
  3, 3, 3.5, 3.5, 4, 4, 4, 4.5, 4.5, 5, 5,
  5.5, 5.5, 6, 6, 6.5, 6.5, 7, 7, 7.5, 8, 8];

const hflCondTicks = ["0.3", "0.4", "0.5", "0.6", "0.7", "0.8", "0.9", "1.0"];
const hflCondTrpo = [0.99, 0.77, 0.65, 0.56, 0.5, 0.462, 0.455, 0.475, 0.495, 0.49,
  0.466, 0.442, 0.422, 0.405, 0.39, 0.378, 0.368, 0.358, 0.35, 0.343, 0.337,
  0.332, 0.328, 0.325, 0.322, 0.32, 0.318, 0.315, 0.312, 0.309, 0.306, 0.303];
const hflCondReg = [0.99, 0.77, 0.65, 0.56, 0.5, 0.462, 0.455, 0.475, 0.495, 0.49,
  0.466, 0.442, 0.422, 0.405, 0.39, 0.378, 0.368, 0.358, 0.35, 0.343, 0.337,
  0.331, 0.326, 0.322, 0.318, 0.314, 0.31, 0.306, 0.302, 0.298, 0.294, 0.29];
const hflCondSd = [0.003, 0.004, 0.005, 0.006, 0.006, 0.006, 0.007, 0.008, 0.008, 0.008,
  0.008, 0.008, 0.008, 0.008, 0.008, 0.008, 0.009, 0.009, 0.009, 0.009, 0.01,
  0.01, 0.01, 0.01, 0.01, 0.01, 0.01, 0.01, 0.01, 0.01, 0.01, 0.01];

const hflKlTicks = ["0.003", "0.004", "0.005", "0.006", "0.007", "0.008", "0.009", "0.010"];
const hflKlTrpo = [0.0092, 0.0093, 0.0088, 0.0090, 0.0085, 0.0068, 0.0060, 0.0029, 0.0031, 0.0032,
  0.0033, 0.0033, 0.0033, 0.0034, 0.0034, 0.0034, 0.0034, 0.0035, 0.0035, 0.0035, 0.0035,
  0.0035, 0.0035, 0.0036, 0.0036, 0.0036, 0.0036, 0.0036, 0.0036, 0.0036, 0.0037, 0.0036];
const hflKlReg = [0.0097, 0.0096, 0.0093, 0.0086, 0.0080, 0.0064, 0.0056, 0.0029, 0.0031, 0.0033,
  0.0034, 0.0034, 0.0034, 0.0034, 0.0034, 0.0035, 0.0035, 0.0035, 0.0035, 0.0035, 0.0035,
  0.0035, 0.0035, 0.0035, 0.0036, 0.0036, 0.0036, 0.0036, 0.0035, 0.0036, 0.0036, 0.0035];
const hflKlNoise = [0.0002, 0.0003, 0.0004, 0.0005, 0.0006, 0.0006, 0.0006, 0.0002, 0.0003, 0.0003,
  0.0003, 0.0003, 0.0003, 0.0003, 0.0003, 0.0003, 0.0003, 0.0003, 0.0003, 0.0003, 0.0003,
  0.0003, 0.0003, 0.0003, 0.0003, 0.0003, 0.0003, 0.0003, 0.0003, 0.0003, 0.0003, 0.0003];
const hflKlSd = [0.0004, 0.0006, 0.0008, 0.001, 0.0012, 0.0012, 0.0012, 0.0003, 0.0005, 0.0005,
  0.0005, 0.0005, 0.0005, 0.0005, 0.0005, 0.0005, 0.0005, 0.0005, 0.0005, 0.0005, 0.0005,
  0.0005, 0.0005, 0.0005, 0.0005, 0.0005, 0.0005, 0.0005, 0.0005, 0.0005, 0.0005, 0.0005];
const hflKlTrpoSpikes = [[780, 0.0045, 0.0072], [1110, 0.0045, 0.0074], [1520, 0.0045, 0.0060], [2300, 0.0042, 0.0056], [2450, 0.0043, 0.0055]];
const hflKlRegSpikes = [[380, 0.0048, 0.0072], [780, 0.0052, 0.0060], [1300, 0.0042, 0.0050], [1980, 0.0042, 0.0060], [2470, 0.0045, 0.0064]];

const hflRatioTicks = ["1.2", "1.4", "1.6", "1.8", "2.0", "2.2"];
const hflRatioTrpo = [1.85, 1.95, 1.82, 1.76, 1.66, 1.55, 1.40, 1.28, 1.26, 1.25,
  1.25, 1.24, 1.24, 1.24, 1.23, 1.23, 1.23, 1.23, 1.23, 1.22, 1.22,
  1.22, 1.22, 1.22, 1.22, 1.21, 1.21, 1.21, 1.21, 1.21, 1.21, 1.21];
const hflRatioReg = [2.05, 1.95, 1.85, 1.78, 1.68, 1.56, 1.40, 1.27, 1.26, 1.25,
  1.25, 1.24, 1.24, 1.23, 1.23, 1.23, 1.23, 1.22, 1.22, 1.22, 1.22,
  1.22, 1.22, 1.21, 1.21, 1.21, 1.21, 1.21, 1.20, 1.21, 1.21, 1.20];
const hflRatioNoise = [0.03, 0.05, 0.05, 0.04, 0.04, 0.04, 0.03, 0.02, 0.02, 0.015,
  0.015, 0.015, 0.015, 0.015, 0.015, 0.015, 0.015, 0.015, 0.015, 0.015, 0.015,
  0.015, 0.015, 0.015, 0.015, 0.015, 0.015, 0.015, 0.015, 0.015, 0.015, 0.015];
const hflRatioSd = [0.05, 0.2, 0.12, 0.1, 0.08, 0.07, 0.06, 0.03, 0.03, 0.025,
  0.025, 0.025, 0.025, 0.025, 0.025, 0.025, 0.025, 0.025, 0.025, 0.025, 0.025,
  0.025, 0.025, 0.025, 0.025, 0.025, 0.025, 0.025, 0.025, 0.025, 0.025, 0.025];

/* ---------- Halfcheetah ---------- */
const hchRewTicks = ["0", "250", "500", "750", "1000", "1250", "1500", "1750", "2000"];
const hchRewTrpo = [0, 20, 50, 180, 380, 530, 630, 740, 840, 910,
  1020, 1110, 1190, 1260, 1320, 1370, 1410, 1450, 1490, 1520, 1550,
  1580, 1600, 1620, 1640, 1660, 1680, 1690, 1700, 1710, 1720, 1730];
const hchRewReg = [0, 25, 60, 220, 420, 570, 680, 780, 880, 960,
  1080, 1180, 1260, 1330, 1390, 1440, 1480, 1520, 1560, 1590, 1620,
  1640, 1660, 1680, 1700, 1710, 1720, 1740, 1750, 1760, 1770, 1780];
const hchRewNoise = [5, 10, 20, 50, 80, 90, 100, 100, 100, 100,
  100, 100, 100, 100, 100, 100, 100, 100, 100, 100, 100,
  100, 100, 100, 100, 100, 100, 100, 100, 100, 100, 100];
const hchRewSd = [5, 15, 30, 80, 120, 150, 170, 180, 190, 200,
  200, 200, 200, 200, 200, 200, 200, 200, 200, 200, 200,
  200, 200, 200, 200, 200, 200, 200, 200, 200, 200, 200];

const hchCondTicks = ["0.2", "0.4", "0.6", "0.8", "1.0"];
const hchCondTrpo = [0.99, 0.72, 0.43, 0.27, 0.22, 0.205, 0.20, 0.205, 0.215, 0.225,
  0.24, 0.255, 0.265, 0.272, 0.278, 0.283, 0.29, 0.295, 0.297, 0.295, 0.293,
  0.293, 0.292, 0.29, 0.288, 0.286, 0.285, 0.285, 0.286, 0.288, 0.288, 0.288];
const hchCondReg = [0.99, 0.72, 0.42, 0.26, 0.21, 0.19, 0.185, 0.19, 0.2, 0.21,
  0.225, 0.235, 0.24, 0.245, 0.25, 0.252, 0.254, 0.256, 0.255, 0.254, 0.255,
  0.256, 0.258, 0.26, 0.262, 0.262, 0.26, 0.258, 0.256, 0.254, 0.252, 0.249];
const hchCondRegSd = [0.01, 0.02, 0.02, 0.02, 0.02, 0.02, 0.02, 0.02, 0.02, 0.02,
  0.022, 0.022, 0.022, 0.024, 0.024, 0.025, 0.025, 0.025, 0.025, 0.025, 0.025,
  0.028, 0.03, 0.03, 0.032, 0.034, 0.036, 0.038, 0.04, 0.04, 0.042, 0.042];

const hchKlTicks = ["0.005", "0.010", "0.015", "0.020", "0.025"];
const hchKlTrpo = [0.008, 0.0085, 0.0088, 0.0082, 0.0078, 0.0075, 0.007, 0.0068, 0.0065, 0.006,
  0.005, 0.0042, 0.0038, 0.0036, 0.0035, 0.0034, 0.0034, 0.0034, 0.0033, 0.0033, 0.0033,
  0.0033, 0.0033, 0.0033, 0.0033, 0.0032, 0.0032, 0.0032, 0.0032, 0.0033, 0.0033, 0.0032];
const hchKlReg = [0.008, 0.0088, 0.0090, 0.0085, 0.0080, 0.0074, 0.0068, 0.0065, 0.0062, 0.0056,
  0.0046, 0.0040, 0.0036, 0.0034, 0.0033, 0.0033, 0.0032, 0.0032, 0.0032, 0.0032, 0.0032,
  0.0032, 0.0032, 0.0032, 0.0032, 0.0031, 0.0031, 0.0031, 0.0031, 0.0031, 0.0031, 0.0031];
const hchKlNoise = [0.0003, 0.0008, 0.001, 0.0012, 0.0012, 0.0011, 0.001, 0.001, 0.0009, 0.0008,
  0.0007, 0.0006, 0.0005, 0.0004, 0.0004, 0.0004, 0.0004, 0.0004, 0.0004, 0.0004, 0.0004,
  0.0004, 0.0004, 0.0004, 0.0004, 0.0004, 0.0004, 0.0004, 0.0004, 0.0004, 0.0004, 0.0004];
const hchKlSd = [0.0005, 0.0015, 0.002, 0.002, 0.002, 0.002, 0.002, 0.0018, 0.0016, 0.0015,
  0.0013, 0.0011, 0.0009, 0.0008, 0.0007, 0.0007, 0.0007, 0.0007, 0.0007, 0.0007, 0.0007,
  0.0007, 0.0007, 0.0007, 0.0007, 0.0007, 0.0007, 0.0007, 0.0007, 0.0007, 0.0007, 0.0007];
const hchKlTrpoSpikes = [[400, 0.0117, 0.0248], [1400, 0.005, 0.0085], [2400, 0.0045, 0.0068]];
const hchKlRegSpikes = [[230, 0.009, 0.012], [1030, 0.0045, 0.007], [2000, 0.0057, 0.0115]];

const hchRatioTicks = ["1.2", "1.4", "1.6", "1.8", "2.0", "2.2"];
const hchRatioTrpo = [1.75, 1.9, 1.85, 1.76, 1.70, 1.65, 1.60, 1.55, 1.50, 1.46,
  1.39, 1.35, 1.33, 1.31, 1.30, 1.29, 1.28, 1.27, 1.27, 1.26, 1.26,
  1.25, 1.25, 1.25, 1.24, 1.24, 1.24, 1.24, 1.23, 1.23, 1.23, 1.23];
const hchRatioReg = [1.72, 1.85, 1.80, 1.72, 1.66, 1.62, 1.57, 1.52, 1.47, 1.43,
  1.37, 1.33, 1.31, 1.30, 1.29, 1.28, 1.27, 1.26, 1.26, 1.25, 1.25,
  1.25, 1.24, 1.24, 1.24, 1.23, 1.23, 1.23, 1.23, 1.22, 1.22, 1.22];
const hchRatioSd = [0.1, 0.25, 0.2, 0.15, 0.12, 0.1, 0.1, 0.09, 0.08, 0.08,
  0.08, 0.08, 0.08, 0.08, 0.08, 0.08, 0.08, 0.08, 0.08, 0.08, 0.08,
  0.08, 0.08, 0.08, 0.08, 0.08, 0.08, 0.08, 0.08, 0.08, 0.08, 0.08];

/* ---------- layout ---------- */
const blocks = [
  { envs: envTop, titleY: 25, titleX: [400, 940, 1445, 1964], labelX: 32, labelY: [205, 525, 896, 1275],
    rows: [[64, 362], [402, 710], [760, 1057], [1098, 1407]],
    tickLeft: [127, 660, 1192, 1732], right: [640, 1172, 1700, 2249] },
  { envs: envBottom, titleY: 1545, titleX: [400, 923, 1490, 2001], labelX: 40, labelY: [1728, 2081, 2433, 2784],
    rows: [[1577, 1882], [1925, 2235], [2288, 2586], [2652, 2957]],
    tickLeft: [122, 660, 1205, 1732], right: [642, 1170, 1721, 2249] }
];

function S(m, noise, sd, spikes) { return { m, noise, sd, spikes: spikes || [] }; }

// block, row, col, tick labels, y domain, TRPO, TRPO reg, optional tick-label left edge
const panels = [
  [0, 0, 0, humRewTicks, [-123, 738], S(humRewTrpo, humRewTrpoNoise, humRewTrpoSd), S(humRewReg, humRewRegNoise, humRewRegSd, humRewRegSpikes)],
  [0, 0, 1, hopRewTicks, [-106, 2553], S(hopRewTrpo, hopRewNoise, hopRewTrpoSd), S(hopRewReg, hopRewNoise, hopRewRegSd)],
  [0, 0, 2, antRewTicks, [126, 1828], S(antRewTrpo, 15, antRewTrpoSd), S(antRewReg, antRewRegNoise, antRewRegSd, antRewRegSpikes)],
  [0, 0, 3, reaRewTicks, [-26.8, 25.1], S(reaRewTrpo, 1.2, reaRewSd), S(reaRewReg, 1.2, reaRewSd)],
  [0, 1, 0, humCondTicks, [0.172, 1.028], S(humCondTrpo, 0.003, humCondTrpoSd), S(humCondReg, 0.003, humCondRegSd)],
  [0, 1, 1, hopCondTicks, [0.18, 1.03], S(hopCondTrpo, 0.008, 0.022), S(hopCondReg, 0.008, hopCondRegSd)],
  [0, 1, 2, antCondTicks, [0.165, 1.03], S(antCondTrpo, 0.015, 0.035), S(antCondReg, 0.015, 0.035)],
  [0, 1, 3, reaCondTicks, [0.145, 1.04], S(reaCondTrpo, 0.004, 0.008), S(reaCondReg, 0.004, 0.008)],
  [0, 2, 0, humKlTicks, [0.00213, 0.01078], S(humKlTrpo, humKlTrpoNoise, humKlTrpoSd, humKlTrpoSpikes), S(humKlReg, humKlRegNoise, humKlRegSd, humKlRegSpikes)],
  [0, 2, 1, hopKlTicks, [0.00178, 0.01096], S(hopKlTrpo, 0.0007, hopKlSd, hopKlTrpoSpikes), S(hopKlReg, 0.0007, hopKlSd, hopKlRegSpikes)],
  [0, 2, 2, antKlTicks, [0.0005, 0.0455], S(antKlTrpo, antKlNoise, antKlSd, antKlTrpoSpikes), S(antKlReg, antKlNoise, antKlSd, antKlRegSpikes)],
  [0, 2, 3, reaKlTicks, [0.0013, 0.01504], S(reaKlTrpo, 0.0011, 0.002, reaKlTrpoSpikes), S(reaKlReg, 0.0011, 0.002, reaKlRegSpikes)],
  [0, 3, 0, humRatioTicks, [1.09, 2.229], S(humRatioTrpo, humRatioNoise, humRatioSd, humRatioTrpoSpikes), S(humRatioReg, humRatioNoise, humRatioSd, humRatioRegSpikes)],
  [0, 3, 1, hopRatioTicks, [1.11, 2.06], S(hopRatioTrpo, 0.04, hopRatioSd), S(hopRatioReg, 0.04, hopRatioSd)],
  [0, 3, 2, antRatioTicks, [1.10, 3.40], S(antRatioTrpo, antRatioNoise, antRatioSd, antRatioTrpoSpikes), S(antRatioReg, antRatioNoise, antRatioSd, antRatioRegSpikes)],
  [0, 3, 3, reaRatioTicks, [1.09, 2.60], S(reaRatioTrpo, 0.05, reaRatioSd), S(reaRatioReg, 0.05, reaRatioSd, reaRatioRegSpikes)],

  [1, 0, 0, penRewTicks, [-132, 9818], S(penRewTrpo, penRewNoise, penRewTrpoSd), S(penRewReg, penRewNoise, penRewRegSd)],
  [1, 0, 1, walRewTicks, [-120, 1473], S(walRewTrpo, walRewNoise, walRewTrpoSd), S(walRewReg, walRewNoise, walRewRegSd)],
  [1, 0, 2, hflRewTicks, [-104, 127], S(hflRewTrpo, hflRewNoise, hflRewSd), S(hflRewReg, hflRewNoise, hflRewSd), 1135],
  [1, 0, 3, hchRewTicks, [-94, 2086], S(hchRewTrpo, hchRewNoise, hchRewSd), S(hchRewReg, hchRewNoise, hchRewSd), 1677],
  [1, 1, 0, penCondTicks, [-0.02, 1.057], S(penCondTrpo, penCondTrpoNoise, penCondTrpoSd), S(penCondReg, 0.005, 0.025)],
  [1, 1, 1, walCondTicks, [0.061, 1.023], S(walCondTrpo, 0.008, 0.03), S(walCondReg, 0.008, 0.02)],
  [1, 1, 2, hflCondTicks, [0.236, 1.028], S(hflCondTrpo, 0.003, hflCondSd), S(hflCondReg, 0.003, hflCondSd)],
  [1, 1, 3, hchCondTicks, [0.126, 1.035], S(hchCondTrpo, 0.006, 0.02), S(hchCondReg, 0.006, hchCondRegSd)],
  [1, 2, 0, penKlTicks, [-0.002, 0.0755], S(penKlTrpo, 0.0015, 0.0025, penKlTrpoSpikes), S(penKlReg, 0.0015, 0.0025, penKlRegSpikes)],
  [1, 2, 1, walKlTicks, [0.0016, 0.0376], S(walKlTrpo, 0.0012, 0.002, walKlTrpoSpikes), S(walKlReg, 0.0012, 0.002, walKlRegSpikes)],
  [1, 2, 2, hflKlTicks, [0.0021, 0.0105], S(hflKlTrpo, hflKlNoise, hflKlSd, hflKlTrpoSpikes), S(hflKlReg, hflKlNoise, hflKlSd, hflKlRegSpikes)],
  [1, 2, 3, hchKlTicks, [0.00117, 0.0259], S(hchKlTrpo, hchKlNoise, hchKlSd, hchKlTrpoSpikes), S(hchKlReg, hchKlNoise, hchKlSd, hchKlRegSpikes)],
  [1, 3, 0, penRatioTicks, [-3.7, 121.2], S(penRatioTrpo, penRatioTrpoNoise, penRatioTrpoSd, penRatioTrpoSpikes), S(penRatioReg, 0.4, 0.8, penRatioRegSpikes), 109],
  [1, 3, 1, walRatioTicks, [1.09, 2.33], S(walRatioTrpo, 0.05, walRatioSd), S(walRatioReg, 0.05, walRatioSd)],
  [1, 3, 2, hflRatioTicks, [1.07, 2.33], S(hflRatioTrpo, hflRatioNoise, hflRatioSd), S(hflRatioReg, hflRatioNoise, hflRatioSd)],
  [1, 3, 3, hchRatioTicks, [1.12, 2.39], S(hchRatioTrpo, 0.04, hchRatioSd), S(hchRatioReg, 0.04, hchRatioSd)]
];

const colors = ["#9b59b6", "#3498db"];
const legendColors = ["#b266ff", "#66b2ff"];
const envOpacity = [0.9, 0.9, 0.5, 0.5];
const svg = d3.select("#fig");

const at = (v, i) => Array.isArray(v) ? v[i] : v;

function meanAt(m, s) {
  const i = Math.min(Math.max(d3.bisectRight(steps, s) - 1, 0), steps.length - 2);
  const t = Math.max(0, Math.min(1, (s - steps[i]) / (steps[i + 1] - steps[i])));
  return m[i] + t * (m[i + 1] - m[i]);
}

panels.forEach((p, k) => drawPanel(p, k));

function drawPanel([bi, row, col, ticks, dom, trpo, reg, tl], k) {
  const B = blocks[bi];
  const [top, bottom] = B.rows[row];
  const g = svg.append("g");

  // y label width decides where the plot starts
  const probe = g.append("g").attr("font-size", 16);
  let maxW = 0;
  ticks.forEach(t => { maxW = Math.max(maxW, probe.append("text").text(t).node().getComputedTextLength()); });
  probe.remove();
  const left = (tl || B.tickLeft[col]) + maxW + 12;
  const right = B.right[col];

  const x = d3.scaleLinear().domain([-125, 2625]).range([left, right]);
  const y = d3.scaleLinear().domain(dom).range([bottom, top]);

  g.append("rect").attr("x", left).attr("y", top)
    .attr("width", right - left).attr("height", bottom - top).attr("fill", "#eaeaf2");

  const yVals = ticks.map(t => +t.replace("−", "-"));
  const gx = g.append("g").attr("transform", `translate(0,${bottom})`)
    .call(d3.axisBottom(x).tickValues(xTicks).tickFormat(d3.format("d"))
      .tickSize(-(bottom - top)).tickPadding(12));
  const gy = g.append("g").attr("transform", `translate(${left},0)`)
    .call(d3.axisLeft(y).tickValues(yVals).tickFormat((d, i) => ticks[i])
      .tickSize(-(right - left)).tickPadding(12));
  [gx, gy].forEach(a => {
    a.select(".domain").remove();
    a.selectAll("line").attr("stroke", "#fff").attr("stroke-width", 2);
    a.selectAll("text").attr("fill", "#333").attr("font-size", 16).attr("font-family", "DejaVu Sans");
  });

  const cid = "clip" + k;
  g.append("clipPath").attr("id", cid).append("rect")
    .attr("x", left).attr("y", top).attr("width", right - left).attr("height", bottom - top);
  const plot = g.append("g").attr("clip-path", `url(#${cid})`);

  const series = [[trpo, colors[0]], [reg, colors[1]]];
  const band = d3.area().x(d => x(d.s)).y0(d => y(d.m - d.sd)).y1(d => y(d.m + d.sd));
  const env = d3.area().x(d => x(d.s)).y0(d => y(d.m - d.nz)).y1(d => y(d.m + d.nz));
  const line = d3.line().x(d => x(d.s)).y(d => y(d.m));
  const pts = s => steps.map((st, i) => ({ s: st, m: s.m[i], sd: at(s.sd, i), nz: at(s.noise, i) }));

  // shaded spread first, both series
  series.forEach(([s, c]) => {
    plot.append("path").datum(pts(s)).attr("d", band).attr("fill", c).attr("opacity", 0.28);
    s.spikes.forEach(([sx, , bp]) => {
      const base = meanAt(s.m, sx);
      plot.append("path")
        .attr("d", d3.line()([[x(sx - 16), y(base)], [x(sx), y(bp)], [x(sx + 16), y(base)]]))
        .attr("fill", c).attr("opacity", 0.28);
    });
  });
  // noisy mean curves on top
  series.forEach(([s, c]) => {
    const d = pts(s);
    plot.append("path").datum(d).attr("d", env).attr("fill", c).attr("opacity", envOpacity[row]);
    plot.append("path").datum(d).attr("d", line).attr("fill", "none")
      .attr("stroke", c).attr("stroke-width", 2.2).attr("stroke-linejoin", "round");
    s.spikes.forEach(([sx, lp]) => {
      const base = meanAt(s.m, sx);
      plot.append("path")
        .attr("d", d3.line()([[x(sx - 10), y(base)], [x(sx), y(lp)], [x(sx + 10), y(base)]]))
        .attr("fill", c).attr("stroke", c).attr("stroke-width", 1.6).attr("stroke-linejoin", "round");
    });
  });
}

// column titles and row labels
blocks.forEach(B => {
  B.envs.forEach((e, i) => svg.append("text")
    .attr("x", B.titleX[i]).attr("y", B.titleY).attr("text-anchor", "middle")
    .attr("font-family", "Liberation Sans, Arial, sans-serif").attr("font-size", 26).attr("fill", "#000")
    .text(e));
  metrics.forEach((m, i) => svg.append("text")
    .attr("transform", `translate(${B.labelX},${B.labelY[i]}) rotate(-90)`)
    .attr("text-anchor", "middle").attr("dy", "0.35em")
    .attr("font-family", "Liberation Sans, Arial, sans-serif").attr("font-size", 26).attr("fill", "#000")
    .text(m));
});

// legend
const legend = svg.append("g").attr("transform", "translate(165,3065)");
const legX = [0, 196];
seriesNames.forEach((n, i) => {
  legend.append("line").attr("x1", legX[i]).attr("x2", legX[i] + 80).attr("y1", 0).attr("y2", 0)
    .attr("stroke", legendColors[i]).attr("stroke-width", 6);
  legend.append("text").attr("x", legX[i] + 102).attr("y", 0).attr("dy", "0.36em")
    .attr("font-family", "Liberation Sans, Arial, sans-serif").attr("font-size", 26).attr("fill", "#000")
    .text(n);
});
</script>
</body>
</html>
